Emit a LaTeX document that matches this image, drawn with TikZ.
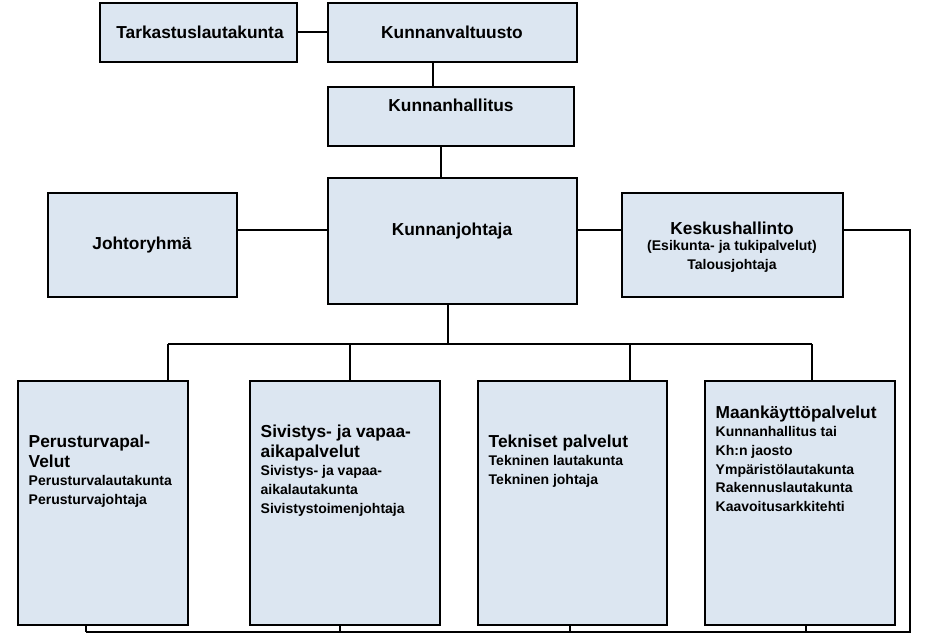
\documentclass[tikz,border=0pt]{standalone}
\usepackage{fontspec}
\setmainfont{Liberation Sans}
\definecolor{boxfill}{RGB}{220,230,241}
\tikzset{
  orgbox/.style={draw=black, line width=1.8pt, fill=boxfill},
  conn/.style={line width=1.8pt},
  head/.style={font=\bfseries\fontsize{13}{15}\selectfont},
  sub/.style={font=\bfseries\fontsize{10.5}{14}\selectfont}
}
\newcommand{\hd}[1]{{\fontsize{13}{15}\selectfont #1}}
\begin{document}
\begin{tikzpicture}[x=0.75pt,y=-0.75pt]
    \useasboundingbox (0,0) rectangle (927,635);
    % Top boxes
    \draw[orgbox] (100,3) rectangle (297,62);
    \node[head] (tark) at (200,32) {Tarkastuslautakunta};
    \draw[orgbox] (328,3) rectangle (577,62);
    \node[head] (valt) at (452,32) {Kunnanvaltuusto};
    \draw[orgbox] (328,87) rectangle (574,146);
    \node[head] (hall) at (451,105) {Kunnanhallitus};
    % Middle row
    \draw[orgbox] (48,193) rectangle (237,297);
    \node[head] (johtor) at (142,245) {Johtoryhmä};
    \draw[orgbox] (328,178) rectangle (577,304);
    \node[head] (johtaja) at (452,231) {Kunnanjohtaja};
    \draw[orgbox] (622,193) rectangle (843,297);
    \node[align=center, sub] (kesk) at (732,247)
        {\hd{Keskushallinto}\\[-2pt](Esikunta- ja tukipalvelut)\\Talousjohtaja};
    % Connectors between upper boxes
    \draw[conn] (297,32) -- (328,32);
    \draw[conn] (433,62) -- (433,87);
    \draw[conn] (441,146) -- (441,178);
    \draw[conn] (237,230) -- (328,230);
    \draw[conn] (577,230) -- (622,230);
    \draw[conn] (843,230) -- (910,230) -- (910,632) -- (86,632);
    % Service boxes
    \foreach \xl/\xr/\xs/\xb in {18/188/168/86, 250/440/350/340, 478/667/630/570, 705/895/812/806}{
        \draw[orgbox] (\xl,381) rectangle (\xr,625);
        \draw[conn] (\xs,344) -- (\xs,381);
        \draw[conn] (\xb,625) -- (\xb,632);
    }
    \draw[conn] (448,304) -- (448,344);
    \draw[conn] (168,344) -- (812,344);
    % Service texts
    \node[sub, anchor=north west, align=left] (perus) at (24,430)
        {\hd{Perusturvapal-}\\[1pt]\hd{Velut}\\Perusturvalautakunta\\Perusturvajohtaja};
    \node[sub, anchor=north west, align=left] (sivis) at (256,420)
        {\hd{Sivistys- ja vapaa-}\\[1pt]\hd{aikapalvelut}\\Sivistys- ja vapaa-\\aikalautakunta\\Sivistystoimenjohtaja};
    \node[sub, anchor=north west, align=left] (tekn) at (484,430)
        {\hd{Tekniset palvelut}\\Tekninen lautakunta\\Tekninen johtaja};
    \node[sub, anchor=north west, align=left] (maank) at (711,401)
        {\hd{Maankäyttöpalvelut}\\Kunnanhallitus tai\\Kh:n jaosto\\Ympäristölautakunta\\Rakennuslautakunta\\Kaavoitusarkkitehti};
\end{tikzpicture}
\end{document}
